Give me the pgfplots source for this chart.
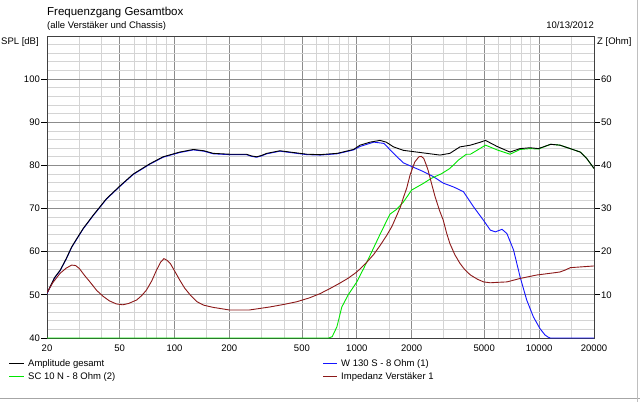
\documentclass[border=0pt]{standalone}
\usepackage{pgfplots}
\pgfplotsset{compat=1.18}
\usepackage{fontspec}
\setmainfont{Liberation Sans}
\definecolor{zred}{RGB}{140,25,25}
\definecolor{sgreen}{RGB}{0,230,0}
\definecolor{wblue}{RGB}{20,20,255}
\newcommand{\tf}{\fontsize{9.5bp}{10bp}\selectfont}
\begin{document}
\begin{tikzpicture}[x=1bp,y=1bp]
\path[use as bounding box, fill=white] (0,0) rectangle (640,402);
\begin{axis}[
  at={(47bp,64bp)}, anchor=south west, scale only axis,
  width=547bp, height=302bp,
  xmode=log, xmin=20, xmax=20000, ymin=40, ymax=110,
  xtick={20,50,100,200,500,1000,2000,5000,10000,20000},
  xticklabels={20,50,100,200,500,1000,2000,5000,10000,20000},
  minor xtick={30,40,60,70,80,90,150,300,400,600,700,800,900,1500,3000,4000,6000,7000,8000,9000,15000},
  ytick={40,50,60,70,80,90,100},
  yticklabels={40,50,60,70,80,90,100},
  minor ytick={42,44,46,48,52,54,56,58,62,64,66,68,72,74,76,78,82,84,86,88,92,94,96,98,102,104,106,108},
  grid=both,
  major grid style={draw=black!45, line width=0.8bp},
  minor grid style={draw=black!17, line width=0.8bp},
  tick align=outside, major tick length=6bp, minor tick length=0bp,
  xtick pos=bottom, ytick pos=left,
  xtick style={draw=none}, ytick style={black, line width=0.8bp},
  axis line style={black!75, line width=0.8bp},
  tick label style={font=\tf},
  yticklabel style={inner sep=1bp},
  xticklabel style={inner sep=1bp},
]
% W 130 S
\addplot[wblue, line width=0.9bp] coordinates {
(20,50.3)(22,53.9)(23.6,55.6)(25.5,58.3)(27.3,61.0)(29.5,63.3)(31.6,65.3)(35.9,68.4)(42.4,72.2)(50.4,75.2)(59.4,77.9)(73.4,80.3)(86.6,81.9)(107,83.0)(127,83.6)(145,83.3)(163,82.7)(200,82.5)(248,82.5)(265,82.1)(282,81.9)(300,82.2)(321,82.7)(379,83.3)(468,82.8)(532,82.5)(630,82.4)(781,82.7)(960,83.6)(1042,84.4)(1240,85.4)(1410,85.1)(1590,82.8)(1800,80.6)(2040,79.6)(2310,78.6)(2630,77.4)(2980,75.9)(3400,75.0)(3850,73.9)(4370,70.4)(4950,67.3)(5400,65.0)(5760,64.6)(6260,65.2)(6660,64.2)(7240,60.4)(7860,54.2)(8550,48.8)(9300,44.9)(10100,42.2)(10770,40.7)(11200,40.2)(11500,40)(20000,40)};
% SC 10 N
\addplot[sgreen, line width=0.9bp] coordinates {
(20,40)(700,40)(733,40.3)(778,42.6)(828,47.2)(897,50.0)(1000,53.0)(1090,56.1)(1184,59.2)(1340,64.0)(1520,68.7)(1650,69.8)(1800,71.5)(2000,74.3)(2310,75.8)(2560,77.0)(2920,78.1)(3240,79.3)(3600,81.2)(3990,82.6)(4200,82.6)(4560,83.5)(5080,84.7)(5880,83.6)(6920,82.6)(7860,83.7)(8930,83.9)(9910,83.8)(11570,84.9)(13000,84.7)(14800,83.9)(16800,83.1)(18250,81.6)(20000,79.3)};
% Amplitude gesamt
\addplot[black, line width=0.9bp] coordinates {
(20,50.4)(22,54)(23.6,55.7)(25.5,58.4)(27.3,61.1)(29.5,63.4)(31.6,65.4)(35.9,68.5)(42.4,72.3)(50.4,75.3)(59.4,78.0)(73.4,80.4)(86.6,82.0)(107,83.1)(127,83.7)(145,83.4)(163,82.8)(200,82.6)(248,82.6)(265,82.2)(282,82.0)(300,82.3)(321,82.8)(379,83.4)(468,82.9)(532,82.6)(630,82.5)(781,82.8)(960,83.7)(1042,84.7)(1184,85.4)(1340,85.8)(1450,85.4)(1590,84.3)(1800,83.5)(2130,83.1)(2420,82.8)(2860,82.4)(3240,82.8)(3680,84.3)(4200,84.7)(4770,85.4)(5080,85.8)(5880,84.4)(6920,83.1)(7860,83.9)(8930,84.1)(9910,83.9)(11570,84.9)(13000,84.7)(14800,83.9)(16800,83.1)(18250,81.6)(20000,79.3)};
\end{axis}
\begin{axis}[
  at={(47bp,64bp)}, anchor=south west, scale only axis,
  width=547bp, height=302bp,
  xmode=log, xmin=20, xmax=20000, ymin=0, ymax=70,
  axis x line=none, axis y line*=right,
  ytick={10,20,30,40,50,60},
  yticklabels={10,20,30,40,50,60},
  tick align=outside, major tick length=6bp,
  ytick style={black, line width=0.8bp},
  axis line style={black!75, line width=0.8bp},
  tick label style={font=\tf},
  yticklabel style={inner sep=1bp},
]
% Impedanz
\addplot[zred, line width=0.9bp] coordinates {
(20,10.5)(21.5,12.8)(23.6,15.0)(25.5,16.2)(27.3,16.9)(28.7,16.8)(30.1,16.1)(32,14.6)(34.4,13.0)(37.5,11.0)(40.8,9.6)(44,8.6)(48,7.9)(52.1,7.7)(56,8.0)(62,8.8)(66,9.8)(70.2,11.1)(75,13.2)(79.7,15.7)(84,17.6)(87.6,18.4)(91,18.0)(94.8,17.3)(100,15.6)(107,13.4)(114,11.5)(122,10.0)(133,8.4)(145,7.6)(163,7.1)(200,6.5)(258,6.5)(334,7.2)(400,7.8)(468,8.4)(550,9.3)(630,10.3)(715,11.5)(806,12.7)(900,13.9)(1000,15.3)(1120,17.3)(1240,19.4)(1340,21.4)(1460,23.8)(1560,25.9)(1660,28.5)(1740,30.5)(1800,32.5)(1880,34.8)(1960,37.8)(2080,40.8)(2190,42.0)(2260,42.1)(2330,41.6)(2400,40.2)(2460,38.9)(2570,35.8)(2690,32.7)(2840,29.6)(2980,27.3)(3110,24.3)(3240,21.9)(3450,19.3)(3680,17.3)(3900,15.9)(4200,14.6)(4600,13.6)(4960,13.0)(5400,12.8)(5900,12.9)(6660,13.0)(7860,13.8)(9700,14.6)(12000,15.1)(13000,15.3)(14000,15.8)(14800,16.3)(20000,16.7)};
\end{axis}
% titles
\node[anchor=base west, inner sep=0pt, font=\fontsize{11.5bp}{12bp}\selectfont] at (47,386.5) {Frequenzgang Gesamtbox};
\node[anchor=base west, inner sep=0pt, font=\tf] at (47,373.5) {(alle Verstäker und Chassis)};
\node[anchor=base east, inner sep=0pt, font=\tf] at (594,373.7) {10/13/2012};
\node[anchor=base west, inner sep=0pt, font=\tf] at (1,357.5) {SPL [dB]};
\node[anchor=base west, inner sep=0pt, font=\tf] at (597,357.5) {Z [Ohm]};
% legend
\draw[black, line width=0.9bp] (9,38.7)--(24,38.7);
\node[anchor=base west, inner sep=0pt, font=\tf] at (28,35.3) {Amplitude gesamt};
\draw[sgreen, line width=0.9bp] (9,25.7)--(24,25.7);
\node[anchor=base west, inner sep=0pt, font=\tf] at (28,22.3) {SC 10 N - 8 Ohm (2)};
\draw[wblue, line width=1bp] (323,38.7)--(337,38.7);
\node[anchor=base west, inner sep=0pt, font=\tf] at (341,35.3) {W 130 S - 8 Ohm (1)};
\draw[zred, line width=0.9bp] (323,25.7)--(337,25.7);
\node[anchor=base west, inner sep=0pt, font=\tf] at (341,22.3) {Impedanz Verstäker 1};
% window frame
\draw[black!35, line width=1.5bp] (0,3.5)--(640,3.5);
\draw[black!25, line width=1bp] (637,0)--(637,402);
\end{tikzpicture}
\end{document}
